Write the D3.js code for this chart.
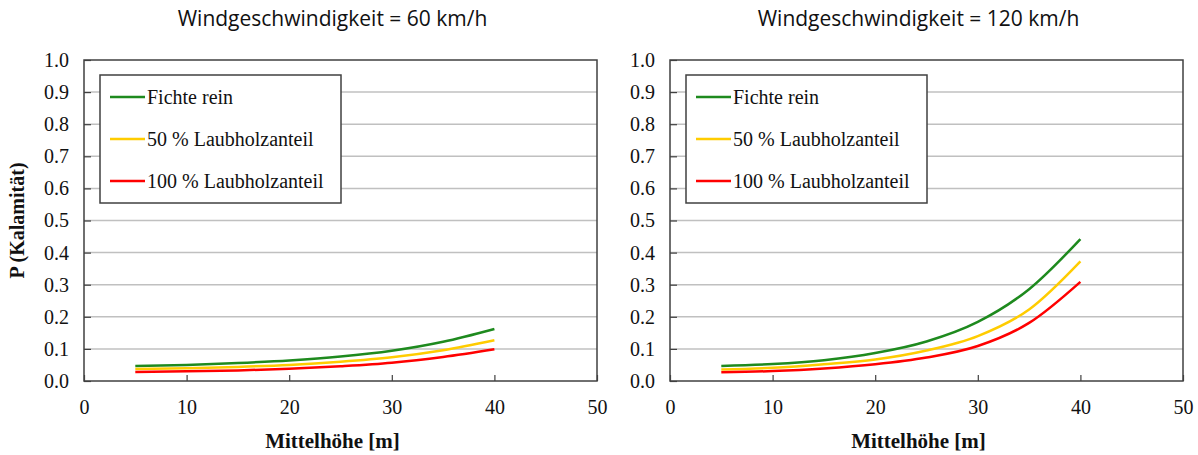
<!DOCTYPE html>
<html lang="de">
<head>
<meta charset="UTF-8">
<title>Kalamität</title>
<script src="https://cdn.jsdelivr.net/npm/d3@7"></script>
<style>
  body { margin: 0; background: #fff; }
  svg { display: block; }
</style>
</head>
<body>
<svg id="chart" width="1198" height="455"></svg>
<script>
// data
var hoehe = [5, 10, 15, 20, 25, 30, 35, 40];
var seriesNames = ["Fichte rein", "50 % Laubholzanteil", "100 % Laubholzanteil"];
var seriesColors = ["#1e8a1e", "#ffcc00", "#ff0000"];
var panelTitles = ["Windgeschwindigkeit = 60 km/h", "Windgeschwindigkeit = 120 km/h"];

// 60 km/h
var wind60Fichte = [0.047, 0.050, 0.056, 0.064, 0.076, 0.094, 0.122, 0.162];
var wind60Laub50 = [0.037, 0.040, 0.044, 0.050, 0.060, 0.074, 0.096, 0.127];
var wind60Laub100 = [0.028, 0.030, 0.033, 0.038, 0.046, 0.057, 0.075, 0.099];
// 120 km/h
var wind120Fichte = [0.047, 0.053, 0.065, 0.087, 0.123, 0.184, 0.286, 0.442];
var wind120Laub50 = [0.036, 0.041, 0.052, 0.067, 0.095, 0.140, 0.223, 0.373];
var wind120Laub100 = [0.027, 0.031, 0.039, 0.052, 0.073, 0.109, 0.181, 0.309];

var xTicks = [0, 10, 20, 30, 40, 50];
var yTicks = [0, 0.1, 0.2, 0.3, 0.4, 0.5, 0.6, 0.7, 0.8, 0.9, 1.0];

var panels = [
  { left: 84, right: 597, title: panelTitles[0], series: [wind60Fichte, wind60Laub50, wind60Laub100] },
  { left: 670, right: 1183, title: panelTitles[1], series: [wind120Fichte, wind120Laub50, wind120Laub100] }
];
var plotTop = 60, plotBottom = 381;

var svg = d3.select("#chart");
var serif = "'Liberation Serif', 'Times New Roman', serif";

panels.forEach(function (p, pi) {
  var x = d3.scaleLinear().domain([0, 50]).range([p.left, p.right]);
  var y = d3.scaleLinear().domain([0, 1]).range([plotBottom, plotTop]);
  var g = svg.append("g");

  // title
  g.append("text")
    .attr("x", (p.left + p.right) / 2 - 8)
    .attr("y", 26)
    .attr("text-anchor", "middle")
    .style("font-family", "'Open Sans', sans-serif")
    .style("font-size", "21px")
    .attr("fill", "#111")
    .text(p.title);

  // grid
  g.selectAll(".grid")
    .data(yTicks.slice(1, -1))
    .enter().append("line")
    .attr("x1", p.left).attr("x2", p.right)
    .attr("y1", function (d) { return y(d); })
    .attr("y2", function (d) { return y(d); })
    .attr("stroke", "#c0c0c0")
    .attr("stroke-width", 1.5);

  // frame
  g.append("rect")
    .attr("x", p.left).attr("y", plotTop)
    .attr("width", p.right - p.left).attr("height", plotBottom - plotTop)
    .attr("fill", "none")
    .attr("stroke", "#404040")
    .attr("stroke-width", 1.5);

  // y axis (ticks inside)
  var yAxis = d3.axisLeft(y).tickValues(yTicks).tickSize(-7).tickSizeOuter(0)
    .tickPadding(15).tickFormat(d3.format(".1f"));
  var ya = g.append("g").attr("transform", "translate(" + p.left + ",0)").call(yAxis);
  ya.select(".domain").remove();
  ya.selectAll("line").attr("stroke", "#404040").attr("stroke-width", 1.2);
  ya.selectAll("text")
    .style("font-family", serif).style("font-size", "20px").attr("fill", "#111");

  // x axis (ticks inside)
  var xAxis = d3.axisBottom(x).tickValues(xTicks).tickSize(-6).tickSizeOuter(0)
    .tickPadding(19).tickFormat(d3.format("d"));
  var xa = g.append("g").attr("transform", "translate(0," + plotBottom + ")").call(xAxis);
  xa.select(".domain").remove();
  xa.selectAll("line").attr("stroke", "#404040").attr("stroke-width", 1.2);
  xa.selectAll("text")
    .style("font-family", serif).style("font-size", "20px").attr("fill", "#111");

  // x title
  g.append("text")
    .attr("x", (p.left + p.right) / 2 - 8)
    .attr("y", 448)
    .attr("text-anchor", "middle")
    .style("font-family", serif).style("font-size", "21px").style("font-weight", "bold")
    .attr("fill", "#111")
    .text("Mittelhöhe [m]");

  // curves
  var line = d3.line()
    .x(function (d, i) { return x(hoehe[i]); })
    .y(function (d) { return y(d); })
    .curve(d3.curveMonotoneX);

  g.selectAll(".curve")
    .data(p.series)
    .enter().append("path")
    .attr("fill", "none")
    .attr("stroke", function (d, i) { return seriesColors[i]; })
    .attr("stroke-width", 2.5)
    .attr("d", line);

  // legend
  var lg = g.append("g").attr("transform", "translate(" + (p.left + 16) + "," + 75 + ")");
  lg.append("rect")
    .attr("width", 241).attr("height", 128)
    .attr("fill", "#fff")
    .attr("stroke", "#404040")
    .attr("stroke-width", 1.5);
  seriesNames.forEach(function (name, i) {
    var ly = 22 + i * 42;
    lg.append("line")
      .attr("x1", 10).attr("x2", 45)
      .attr("y1", ly).attr("y2", ly)
      .attr("stroke", seriesColors[i])
      .attr("stroke-width", 2.5);
    lg.append("text")
      .attr("x", 47).attr("y", ly + 7)
      .style("font-family", serif).style("font-size", "20px")
      .attr("fill", "#111")
      .text(name);
  });

  // y title only on first panel
  if (pi === 0) {
    g.append("text")
      .attr("transform", "translate(24," + ((plotTop + plotBottom) / 2) + ") rotate(-90)")
      .attr("text-anchor", "middle")
      .style("font-family", serif).style("font-size", "20px").style("font-weight", "bold")
      .attr("fill", "#111")
      .text("P (Kalamität)");
  }
});
</script>
</body>
</html>
